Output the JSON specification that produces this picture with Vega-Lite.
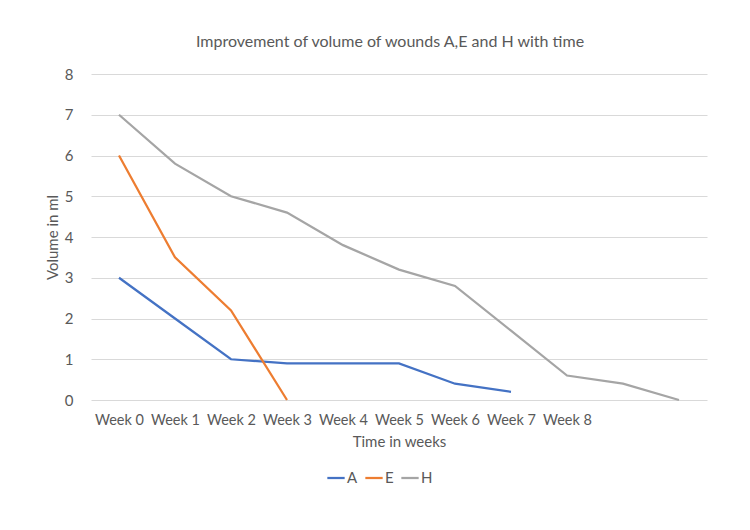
{
  "$schema": "https://vega.github.io/schema/vega-lite/v6.json",
  "autosize": "none",
  "width": 616,
  "height": 326,
  "padding": {"left": 91, "top": 74, "right": 43, "bottom": 130},
  "background": "white",
  "config": {
    "view": {"stroke": null},
    "font": "Lato",
    "axis": {"labelColor": "#595959", "titleColor": "#595959", "labelFont": "Lato", "titleFont": "Lato", "titleFontWeight": "normal"}
  },
  "title": {"text": "Improvement of volume of wounds A,E and H with time", "anchor": "middle", "fontSize": 16, "fontWeight": "normal", "color": "#595959", "font": "Lato", "offset": 17, "dx": -9},
  "data": {"values": [
    {"week": 0, "series": "A", "volume": 3},
    {"week": 1, "series": "A", "volume": 2},
    {"week": 2, "series": "A", "volume": 1},
    {"week": 3, "series": "A", "volume": 0.9},
    {"week": 4, "series": "A", "volume": 0.9},
    {"week": 5, "series": "A", "volume": 0.9},
    {"week": 6, "series": "A", "volume": 0.4},
    {"week": 7, "series": "A", "volume": 0.2},
    {"week": 0, "series": "E", "volume": 6},
    {"week": 1, "series": "E", "volume": 3.5},
    {"week": 2, "series": "E", "volume": 2.2},
    {"week": 3, "series": "E", "volume": 0},
    {"week": 0, "series": "H", "volume": 7},
    {"week": 1, "series": "H", "volume": 5.8},
    {"week": 2, "series": "H", "volume": 5},
    {"week": 3, "series": "H", "volume": 4.6},
    {"week": 4, "series": "H", "volume": 3.8},
    {"week": 5, "series": "H", "volume": 3.2},
    {"week": 6, "series": "H", "volume": 2.8},
    {"week": 7, "series": "H", "volume": 1.7},
    {"week": 8, "series": "H", "volume": 0.6},
    {"week": 9, "series": "H", "volume": 0.4},
    {"week": 10, "series": "H", "volume": 0}
  ]},
  "mark": {"type": "line", "strokeWidth": 2.25},
  "encoding": {
    "x": {
      "field": "week", "type": "ordinal",
      "scale": {"type": "point", "padding": 0.5, "domain": [0,1,2,3,4,5,6,7,8,9,10]},
      "axis": {"title": "Time in weeks", "titleFontSize": 15, "labelFontSize": 14.5, "labelAngle": 0, "labelExpr": "datum.value <= 8 ? 'Week ' + datum.value : ''", "ticks": false, "domain": false, "labelPadding": 13, "titlePadding": 8, "grid": false}
    },
    "y": {
      "field": "volume", "type": "quantitative",
      "scale": {"domain": [0, 8]},
      "axis": {"title": "Volume in ml", "titleFontSize": 15, "labelFontSize": 15, "tickCount": 8, "ticks": false, "domain": false, "gridColor": "#d9d9d9", "labelPadding": 18, "titlePadding": 4}
    },
    "color": {
      "field": "series", "type": "nominal",
      "scale": {"domain": ["A", "E", "H"], "range": ["#4472C4", "#ED7D31", "#A5A5A5"]},
      "legend": {"orient": "none", "legendX": 235, "legendY": 394, "direction": "horizontal", "title": null, "symbolType": "stroke", "symbolStrokeWidth": 2.25, "symbolSize": 300, "labelFontSize": 15, "labelColor": "#595959", "labelFont": "Lato", "columnPadding": 2, "labelOffset": 1, "symbolOffset": 0}
    }
  }
}
